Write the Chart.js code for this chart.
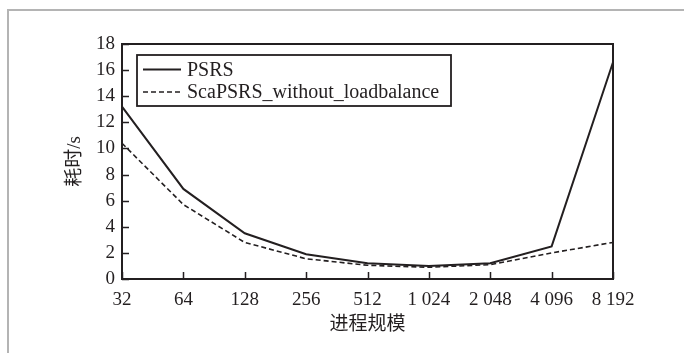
<!DOCTYPE html>
<html lang="zh">
<head>
    <meta charset="UTF-8">
    <title>进程规模 - 耗时</title>
    <script src="https://cdn.jsdelivr.net/npm/chart.js"></script>
    <style>
        body {
            margin: 0;
            background: #ffffff;
        }
        .wrap {
            position: relative;
            width: 684px;
            height: 353px;
        }
        /* light grey frame of the figure (left and top edges only) */
        .frame {
            position: absolute;
            left: 7px;
            top: 9px;
            right: -10px;
            bottom: -10px;
            border-left: 2px solid #b4b4b4;
            border-top: 2px solid #b4b4b4;
        }
        canvas {
            position: absolute;
            left: 0;
            top: 0;
        }
    </style>
</head>
<body>
<div class="wrap">
    <div class="frame"></div>
    <canvas id="chart" width="684" height="353"></canvas>
</div>

<script>
    // data
    const processCounts = ['32', '64', '128', '256', '512', '1 024', '2 048', '4 096', '8 192'];
    const psrsTimes = [13.2, 6.9, 3.5, 1.9, 1.2, 1.0, 1.2, 2.5, 16.6];
    const scaTimes = [10.4, 5.7, 2.8, 1.55, 1.05, 0.9, 1.1, 2.0, 2.8];
    const seriesNames = ['PSRS', 'ScaPSRS_without_loadbalance'];
    const yMin = 0, yMax = 18, yStep = 2;

    const ink = '#231f20';
    const serif = "'Liberation Serif', 'Noto Sans CJK SC', serif";
    Chart.defaults.font.family = serif;
    Chart.defaults.color = ink;

    // box around the plot, inward tick marks and the legend inside the plot
    const framePlugin = {
        id: 'framePlugin',
        afterDraw(chart) {
            const ctx = chart.ctx;
            const a = chart.chartArea;
            const xs = chart.scales.x, ys = chart.scales.y;
            ctx.save();
            ctx.strokeStyle = ink;
            ctx.lineWidth = 2;
            ctx.setLineDash([]);
            ctx.strokeRect(a.left, a.top, a.right - a.left, a.bottom - a.top);

            // ticks pointing inward
            ctx.lineWidth = 1.5;
            ctx.beginPath();
            xs.ticks.forEach((t, i) => {
                const px = Math.round(xs.getPixelForTick(i)) + 0.5;
                ctx.moveTo(px, a.bottom);
                ctx.lineTo(px, a.bottom - 7);
            });
            ys.ticks.forEach((t, i) => {
                const py = Math.round(ys.getPixelForTick(i)) + 0.5;
                ctx.moveTo(a.left, py);
                ctx.lineTo(a.left + 7, py);
            });
            ctx.stroke();

            // legend
            const lx = a.left + 15, ly = a.top + 11, lw = 314, lh = 51;
            ctx.fillStyle = '#ffffff';
            ctx.fillRect(lx, ly, lw, lh);
            ctx.lineWidth = 1.8;
            ctx.strokeRect(lx, ly, lw, lh);
            ctx.font = '20px ' + serif;
            ctx.fillStyle = ink;
            ctx.textBaseline = 'middle';
            chart.data.datasets.forEach((ds, i) => {
                const rowY = ly + 14.5 + i * 22.5;
                ctx.beginPath();
                ctx.lineWidth = ds.borderWidth;
                ctx.setLineDash(ds.borderDash || []);
                ctx.moveTo(lx + 6, rowY);
                ctx.lineTo(lx + 44, rowY);
                ctx.stroke();
                ctx.setLineDash([]);
                ctx.fillText(ds.label, lx + 50, rowY + 1);
            });
            ctx.restore();
        }
    };

    new Chart(document.getElementById('chart'), {
        type: 'line',
        data: {
            labels: processCounts,
            datasets: [
                {
                    label: seriesNames[0],
                    data: psrsTimes,
                    borderColor: ink,
                    borderWidth: 2,
                    pointRadius: 0,
                    tension: 0,
                    fill: false
                },
                {
                    label: seriesNames[1],
                    data: scaTimes,
                    borderColor: ink,
                    borderWidth: 1.6,
                    borderDash: [5, 3],
                    pointRadius: 0,
                    tension: 0,
                    fill: false
                }
            ]
        },
        options: {
            responsive: false,
            animation: false,
            devicePixelRatio: 1,
            layout: { padding: { top: 44, right: 71, left: 0, bottom: 0 } },
            plugins: {
                legend: { display: false },
                tooltip: { enabled: false }
            },
            scales: {
                x: {
                    offset: false,
                    grid: { display: false, drawTicks: false },
                    border: { display: false },
                    ticks: {
                        font: { size: 19 },
                        color: ink,
                        padding: 10,
                        maxRotation: 0,
                        autoSkip: false
                    },
                    title: {
                        display: true,
                        text: '进程规模',
                        font: { size: 19 },
                        color: ink,
                        padding: { top: 0, bottom: 17 }
                    },
                    afterFit(s) { s.height = 74; }
                },
                y: {
                    min: yMin,
                    max: yMax,
                    grid: { display: false, drawTicks: false },
                    border: { display: false },
                    ticks: {
                        stepSize: yStep,
                        font: { size: 19 },
                        color: ink,
                        padding: 7
                    },
                    title: {
                        display: true,
                        text: '耗时/s',
                        font: { size: 19 },
                        color: ink,
                        padding: { top: 64, bottom: 0 }
                    },
                    afterFit(s) { s.width = 122; }
                }
            }
        },
        plugins: [framePlugin]
    });
</script>
</body>
</html>
